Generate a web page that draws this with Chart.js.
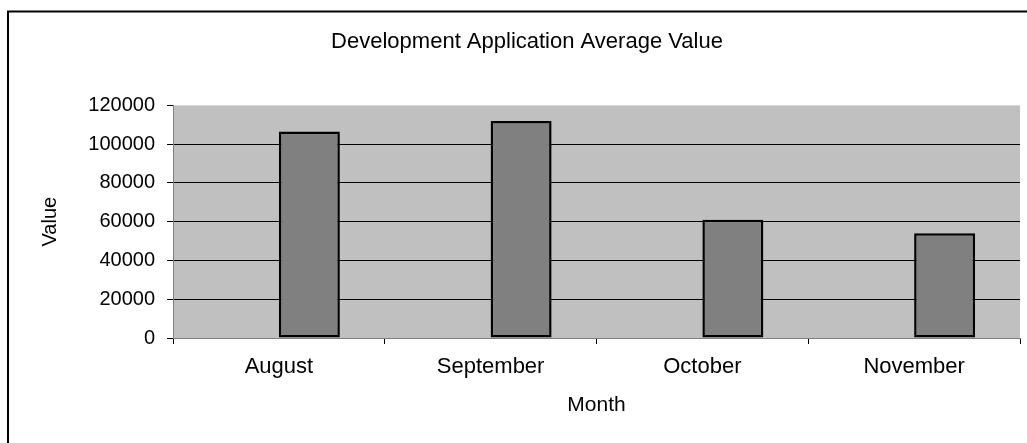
<!DOCTYPE html>
<html>
<head>
<meta charset="utf-8">
<script src="https://cdn.jsdelivr.net/npm/chart.js@4"></script>
<style>
  body { margin: 0; background: #fff; }
  .box { width: 1027px; height: 443px; }
</style>
</head>
<body>
<div class="box"><canvas class="value-chart"></canvas></div>
<script>
const months = ['August', 'September', 'October', 'November'];
const avgValue = [106500, 112000, 61000, 54000];
const emptySeries = [null, null, null, null];

const ctx = document.querySelector('.value-chart');

// grey plot area + outer frame like the old excel chart
const frame = {
  id: 'frame',
  beforeDraw(chart) {
    const c = chart.ctx;
    const a = chart.chartArea;
    c.save();
    c.fillStyle = '#c0c0c0';
    c.fillRect(a.left, a.top, a.right - a.left, a.bottom - a.top);
    c.strokeStyle = '#000';
    c.lineWidth = 2;
    c.strokeRect(8, 11.5, 1030, 440);
    c.restore();
  }
};

new Chart(ctx, {
  type: 'bar',
  data: {
    labels: months,
    datasets: [{
        label: 'blank',
        data: emptySeries
    },
    {
        label: 'Value',
        data: avgValue,
        backgroundColor: '#808080',
        borderColor: '#000',
        borderWidth: 2.5,
        borderSkipped: false
    }]
  },
  options: {
    responsive: true,
    maintainAspectRatio: false,
    animation: false,
    layout: {
      padding: { left: 34, right: 7, top: 0, bottom: 15 }
    },
    datasets: {
      bar: { categoryPercentage: 0.576, barPercentage: 1 }
    },
    scales: {
        x: {
          afterFit(scale) { scale.height = 90; },
          border: { display: true, color: '#808080', width: 1 },
          grid: {
            display: true,
            drawOnChartArea: false,
            tickLength: 6,
            tickColor: '#000'
          },
          ticks: {
            color: '#000',
            padding: 10,
            font: { family: 'Liberation Sans', size: 22 }
          },
          title: {
            display: true,
            text: 'Month',
            color: '#000',
            padding: { top: 0, bottom: 10 },
            font: { family: 'Liberation Sans', size: 21 }
          }
        },
        y: {
          min: 0,
          max: 120000,
          afterFit(scale) { scale.width = 139; },
          border: { display: true, color: '#808080', width: 1 },
          grid: {
            color: (c) => c.tick && c.tick.value === 120000 ? 'rgba(0,0,0,0)' : '#000',
            tickColor: '#000',
            tickLength: 6
          },
          ticks: {
            stepSize: 20000,
            color: '#000',
            padding: 12,
            callback: (v) => String(v),
            font: { family: 'Liberation Sans', size: 20 }
          },
          title: {
            display: true,
            text: 'Value',
            color: '#000',
            padding: { top: 4, bottom: 0 },
            font: { family: 'Liberation Sans', size: 20 }
          }
        }
    },
    plugins: {
        legend: { display: false },
        tooltip: { enabled: false },
        title: {
          display: true,
          text: 'Development Application Average Value',
          color: '#000',
          padding: { top: 29, bottom: 50 },
          font: { family: 'Liberation Sans', size: 22, weight: 'normal' }
        }
    }
  },
  plugins: [frame]
});
</script>
</body>
</html>
